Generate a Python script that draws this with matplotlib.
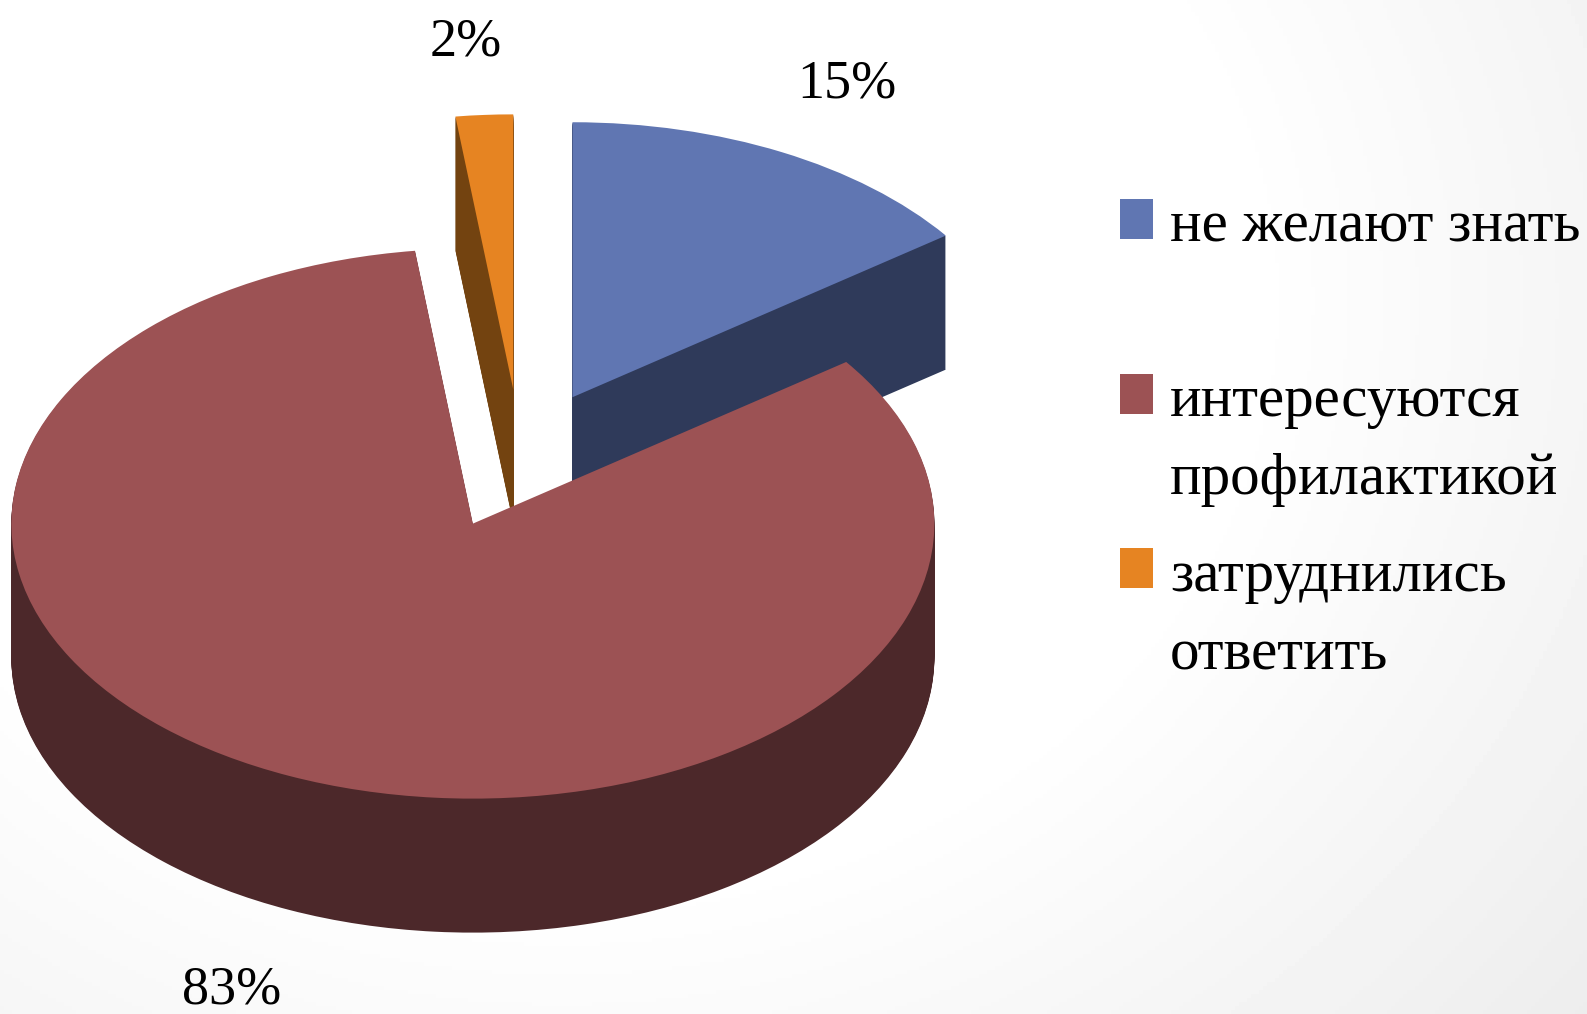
import numpy as np
import matplotlib
matplotlib.use('Agg')
import matplotlib.pyplot as plt
from matplotlib.patches import Rectangle

labels = ["не желают знать", "интересуются\nпрофилактикой", "затруднились\nответить"]
values = [15, 83, 2]
pct_labels = ["15%", "83%", "2%"]
top_colors = ['#6076B2', '#9C5254', '#E68422']
side_colors = ['#2F3A5A', '#4C282A', '#734310']

W, H = 1587, 1014
# pie geometry in pixels
cx, cy = 520.5, 458
rx, ry = 461.5, 275
depth = 134
explode = [0.248, 0.26, 0.25]

plt.rcParams['font.family'] = ['Liberation Serif', 'DejaVu Serif']

fig = plt.figure(figsize=(W / 100, H / 100), dpi=100)

# background and text layer, in pixels
bg = fig.add_axes([0, 0, 1, 1])
bg.axis('off')
yy, xx = np.mgrid[0:H:4, 0:W:4]
dist = np.hypot((xx - 560) / 1050, (yy - 300) / 900)
shade = 255 - 18 * np.clip((dist - 0.65) / 0.6, 0, 1)
bg.imshow(shade, cmap='gray', vmin=0, vmax=255, extent=(0, W, H, 0), aspect='auto', zorder=0)
bg.set_xlim(0, W)
bg.set_ylim(H, 0)

# pie layer
ax = fig.add_axes([0, 0, 1, 1])
steps = np.arange(depth, 0, -1.0)
for d in steps:
    wedges, _ = ax.pie(values, explode=explode, colors=side_colors, startangle=90,
                       counterclock=False, center=(0, -d / ry),
                       wedgeprops=dict(linewidth=0))
    wedges[0].set_zorder(1)
    wedges[1].set_zorder(3)
    wedges[2].set_zorder(1)
wedges, _ = ax.pie(values, explode=explode, colors=top_colors, startangle=90,
                   counterclock=False, wedgeprops=dict(linewidth=0))
wedges[0].set_zorder(2)
wedges[1].set_zorder(4)
wedges[2].set_zorder(2)
ax.set_aspect('auto')
ax.set_xlim(-cx / rx, (W - cx) / rx)
ax.set_ylim(-(H - cy) / ry, cy / ry)
ax.patch.set_visible(False)

# data labels
pct_pos = [(847, 97), (232, 1003), (466, 55)]
for t, (x, y) in zip(pct_labels, pct_pos):
    bg.text(x, y, t, fontsize=39, ha='center', va='baseline', color='black')
bg.set_zorder(ax.get_zorder() - 1)

# legend
swatch_y = [199, 374, 548]
text_y = [241, 416, 591]
for lab, col, sy, ty in zip(labels, top_colors, swatch_y, text_y):
    bg.add_patch(Rectangle((1120, sy), 33, 40, color=col, linewidth=0))
    for i, line in enumerate(lab.split("\n")):
        bg.text(1170, ty + i * 78, line, fontsize=42.5, ha='left', va='baseline', color='black')

fig.savefig('out.png', dpi=100)
